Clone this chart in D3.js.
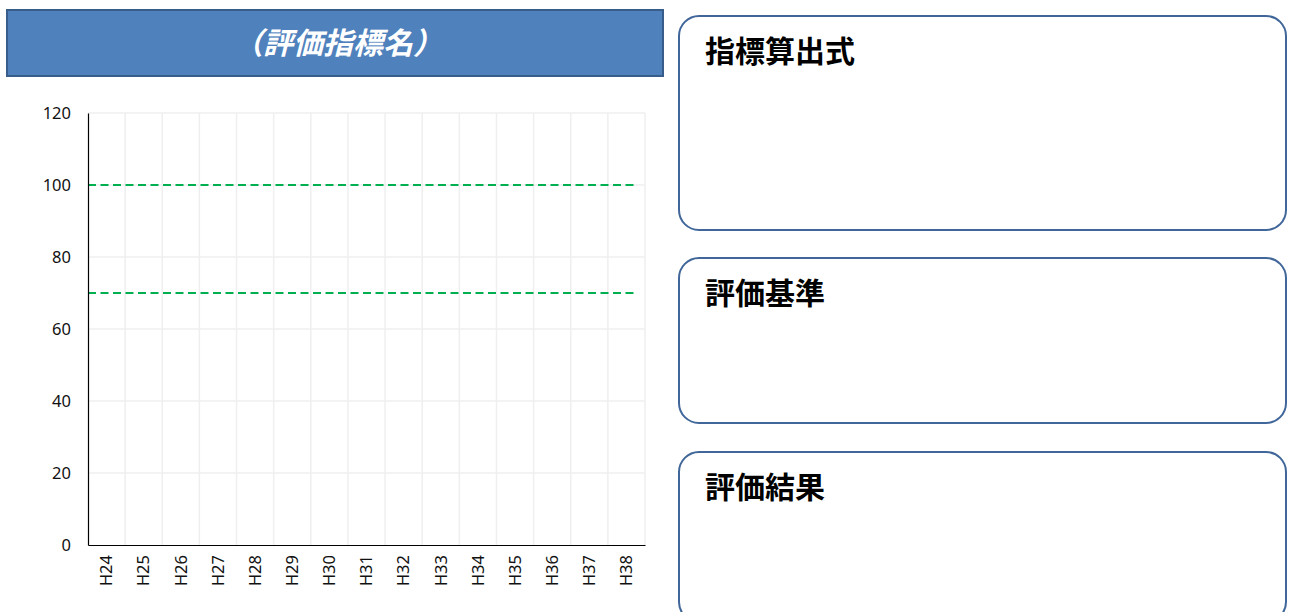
<!DOCTYPE html>
<html>
<head>
<meta charset="utf-8">
<script src="https://cdn.jsdelivr.net/npm/d3@7"></script>
<style>
  body { margin: 0; background: #fff; }
  text { font-family: "Noto Sans", "Noto Sans CJK JP", sans-serif; }
</style>
</head>
<body>
<div id="data-viz"></div>
<script>
// chart data
var categories = ["H24","H25","H26","H27","H28","H29","H30","H31","H32","H33","H34","H35","H36","H37","H38"];
var yTicks = [0, 20, 40, 60, 80, 100, 120];
var refLines = [100, 70];
var chartTitle = "（評価指標名）";
var panelTitles = ["指標算出式", "評価基準", "評価結果"];

var svg = d3.select("#data-viz")
  .append("svg")
    .attr("width", 1289)
    .attr("height", 612);

// title banner
svg.append("rect")
  .attr("x", 7).attr("y", 10)
  .attr("width", 656).attr("height", 66)
  .attr("fill", "#4F81BD")
  .attr("stroke", "#385D8A")
  .attr("stroke-width", 2);

svg.append("text")
  .attr("x", 338).attr("y", 54)
  .attr("text-anchor", "middle")
  .attr("fill", "#fff")
  .style("font-family", "'Noto Sans CJK JP', sans-serif")
  .style("font-size", "30px")
  .style("font-weight", "bold")
  .style("font-style", "italic")
  .text(chartTitle);

// plot area
var margin = {top: 113, left: 88},
    width = 557,
    height = 432;

var g = svg.append("g")
  .attr("transform", "translate(" + margin.left + "," + margin.top + ")");

var x = d3.scaleBand()
  .domain(categories)
  .range([0, width]);

var y = d3.scaleLinear()
  .domain([0, 120])
  .range([height, 0]);

// grid
g.append("g")
  .selectAll("line")
  .data(yTicks.slice(1))
  .enter()
  .append("line")
    .attr("x1", 0).attr("x2", width)
    .attr("y1", function(d) { return y(d); })
    .attr("y2", function(d) { return y(d); })
    .attr("stroke", "#efefef")
    .attr("stroke-width", 1.5);

g.append("g")
  .selectAll("line")
  .data(categories)
  .enter()
  .append("line")
    .attr("x1", function(d) { return x(d) + x.bandwidth(); })
    .attr("x2", function(d) { return x(d) + x.bandwidth(); })
    .attr("y1", 0).attr("y2", height)
    .attr("stroke", "#efefef")
    .attr("stroke-width", 1.5);

// reference lines
g.append("g")
  .selectAll("line")
  .data(refLines)
  .enter()
  .append("line")
    .attr("x1", 0).attr("x2", width - 7)
    .attr("y1", function(d) { return y(d); })
    .attr("y2", function(d) { return y(d); })
    .attr("stroke", "#00B050")
    .attr("stroke-width", 2)
    .attr("stroke-dasharray", "8,4.5");

// axes
var yAxis = g.append("g")
  .call(d3.axisLeft(y).tickValues(yTicks).tickSize(0).tickPadding(17));
yAxis.attr("font-size", null).attr("font-family", null);
yAxis.select(".domain").attr("stroke", "#000").attr("stroke-width", 1.2);
yAxis.selectAll("text")
  .style("font-size", "16.5px")
  .attr("fill", "#111");

var xAxis = g.append("g")
  .attr("transform", "translate(0," + height + ")")
  .call(d3.axisBottom(x).tickSize(0));
xAxis.attr("font-size", null).attr("font-family", null);
xAxis.select(".domain").attr("stroke", "#000").attr("stroke-width", 1.2);
xAxis.selectAll("text")
  .style("font-size", "16.5px")
  .attr("fill", "#111")
  .attr("transform", "rotate(-90)")
  .attr("text-anchor", "end")
  .attr("x", -10)
  .attr("y", 0)
  .attr("dy", "0.35em");

// right side panels
var panelTop = [16, 258, 452],
    panelHeight = [214, 165, 170];

var panels = svg.append("g")
  .selectAll("g")
  .data(panelTitles)
  .enter()
  .append("g");

panels.append("rect")
  .attr("x", 679)
  .attr("y", function(d, i) { return panelTop[i]; })
  .attr("width", 607)
  .attr("height", function(d, i) { return panelHeight[i]; })
  .attr("rx", 20).attr("ry", 20)
  .attr("fill", "#fff")
  .attr("stroke", "#41679A")
  .attr("stroke-width", 2);

panels.append("text")
  .attr("x", 705)
  .attr("y", function(d, i) { return panelTop[i] + 46; })
  .style("font-family", "'Noto Sans CJK JP', sans-serif")
  .style("font-size", "30px")
  .style("font-weight", "bold")
  .attr("fill", "#000")
  .text(function(d) { return d; });
</script>
</body>
</html>
